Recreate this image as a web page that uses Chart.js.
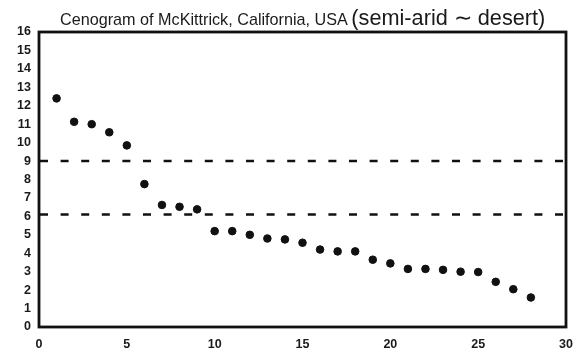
<!DOCTYPE html>
<html>
<head>
<meta charset="utf-8">
<script src="https://cdn.jsdelivr.net/npm/chart.js@4/dist/chart.umd.min.js"></script>
<style>
  html, body { margin: 0; padding: 0; background: #fff; }
  #wrap { position: relative; width: 576px; height: 353px; }
</style>
</head>
<body>
<div id="wrap"><canvas id="chart" width="576" height="353"></canvas></div>
<script>
var ctx = document.getElementById('chart').getContext('2d');

// rank of each species (body size order) and its log body mass
var ranks = [1, 2, 3, 4, 5, 6, 7, 8, 9, 10, 11, 12, 13, 14, 15, 16, 17, 18, 19, 20, 21, 22, 23, 24, 25, 26, 27, 28];
var masses = [12.4, 11.13, 11.0, 10.56, 9.85, 7.75, 6.62, 6.52, 6.38, 5.2, 5.2, 5.0, 4.8, 4.75, 4.57, 4.2, 4.1, 4.1, 3.65, 3.45, 3.15, 3.15, 3.1, 3.0, 2.98, 2.45, 2.05, 1.6];

// reference levels drawn as dashed lines
var levels = [9, 6.1];
var xRange = [0, 30];
var yRange = [0, 16];

var titleMain = 'Cenogram of McKittrick, California, USA ';
var titleSub = '(semi-arid \u223C desert)';

var font = '"Liberation Sans", Arial, Helvetica, sans-serif';

var points = ranks.map(function (r, i) { return { x: r, y: masses[i] }; });

var levelSets = levels.map(function (v) {
  return {
    type: 'line',
    data: [{ x: xRange[0], y: v }, { x: xRange[1], y: v }],
    borderColor: '#111',
    borderWidth: 2.6,
    borderDash: [8, 12.6],
    borderDashOffset: -1,
    pointRadius: 0,
    fill: false
  };
});

// frame around the plot area and the two-size title
var frame = {
  id: 'frame',
  afterDatasetsDraw: function (chart) {
    var a = chart.chartArea, c = chart.ctx;
    c.save();
    c.strokeStyle = '#111';
    c.lineWidth = 2.8;
    c.strokeRect(a.left, a.top, a.right - a.left, a.bottom - a.top);
    c.restore();
  },
  afterDraw: function (chart) {
    var c = chart.ctx;
    c.save();
    c.fillStyle = '#1a1a1a';
    c.textBaseline = 'alphabetic';
    c.font = '16.2px ' + font;
    c.fillText(titleMain, 60, 25);
    var w = c.measureText(titleMain).width;
    c.font = '21.7px ' + font;
    c.fillText(titleSub, 60 + w - 1, 25);
    c.restore();
  }
};

var tickFont = { family: font, size: 12.5, weight: 'bold' };

new Chart(ctx, {
  type: 'scatter',
  data: {
    datasets: [{
      data: points,
      backgroundColor: '#111',
      borderColor: '#111',
      pointRadius: 3.8,
      pointHoverRadius: 3.8
    }].concat(levelSets)
  },
  options: {
    responsive: false,
    animation: false,
    layout: { padding: { left: 0, right: 10, top: 32, bottom: 0 } },
    plugins: {
      legend: { display: false },
      title: { display: false },
      tooltip: { enabled: false }
    },
    scales: {
      x: {
        type: 'linear',
        min: xRange[0],
        max: xRange[1],
        grid: { display: false, drawTicks: false },
        border: { display: false },
        ticks: { stepSize: 5, autoSkip: false, color: '#1a1a1a', font: tickFont, padding: 10, maxRotation: 0 },
        afterFit: function (s) { s.height = 26; s.paddingLeft = 0; s.paddingRight = 0; }
      },
      y: {
        min: yRange[0],
        max: yRange[1],
        grid: { display: false, drawTicks: false },
        border: { display: false },
        ticks: { stepSize: 1, autoSkip: false, color: '#1a1a1a', font: tickFont, padding: 8 },
        afterFit: function (s) { s.width = 39; s.paddingTop = 0; s.paddingBottom = 0; }
      }
    }
  },
  plugins: [frame]
});
</script>
</body>
</html>
